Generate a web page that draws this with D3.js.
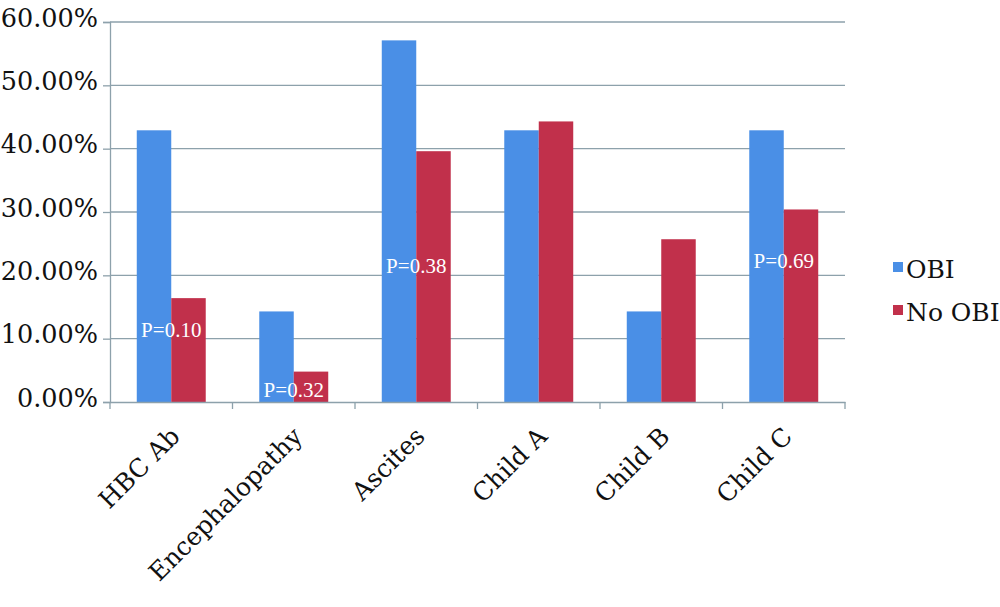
<!DOCTYPE html>
<html><head><meta charset="utf-8">
<script src="https://cdn.jsdelivr.net/npm/d3@7"></script>
<style>body{margin:0;background:#fff}svg{display:block}</style>
</head><body>
<svg id="chart" width="1000" height="607"></svg>
<script>
const categories = ["HBC Ab","Encephalopathy","Ascites","Child A","Child B","Child C"];
const seriesNames = ["OBI","No OBI"];
const obiValues = [42.9, 14.3, 57.1, 42.9, 14.3, 42.9];
const noObiValues = [16.4, 4.8, 39.6, 44.3, 25.7, 30.4];
const yTicks = [0,10,20,30,40,50,60];
const pLabels = ["P=0.10","P=0.32","P=0.38","","","P=0.69"];
const pLabelAt = [10.3, 0.8, 20.4, null, null, 21.2];

(function(){
const colors = {"OBI":"#4a8fe6","No OBI":"#c1304b"};
const font = "DejaVu Serif";
const svg = d3.select("#chart");
const pl = 110, pr = 845, pt = 22, pb = 402;
const grid = "#8da1ab";

const x = d3.scaleBand().domain(categories).range([pl,pr]).paddingInner(0.437).paddingOuter(0.2185);
const xs = d3.scaleBand().domain(seriesNames).range([0,x.bandwidth()]);
const y = d3.scaleLinear().domain([0,60]).range([pb,pt]);

svg.append("g").selectAll("line").data(yTicks.filter(d=>d>0)).join("line")
  .attr("x1",pl).attr("x2",pr).attr("y1",d=>y(d)).attr("y2",d=>y(d))
  .attr("stroke",grid).attr("stroke-width",1.3);

const yAxis = svg.append("g").attr("transform",`translate(${pl},0)`)
  .call(d3.axisLeft(y).tickValues(yTicks).tickSize(7).tickFormat(d=>d.toFixed(2)+"%"));
yAxis.select(".domain").attr("stroke",grid).attr("stroke-width",1.3);
yAxis.selectAll(".tick line").attr("stroke",grid).attr("stroke-width",1.3);
yAxis.selectAll(".tick text").attr("font-family",font).attr("font-size",25.5)
  .attr("fill","#111").attr("x",-12).attr("dy",null).attr("y",4);

const rows = categories.map((c,i)=>({cat:c, vals:[{s:"OBI",v:obiValues[i]},{s:"No OBI",v:noObiValues[i]}]}));
const g = svg.append("g").selectAll("g").data(rows).join("g").attr("transform",d=>`translate(${x(d.cat)},0)`);
g.selectAll("rect").data(d=>d.vals).join("rect")
  .attr("x",d=>xs(d.s)).attr("width",xs.bandwidth())
  .attr("y",d=>y(d.v)).attr("height",d=>y(0)-y(d.v))
  .attr("fill",d=>colors[d.s]);

const xAxis = svg.append("g").attr("transform",`translate(0,${pb})`)
  .call(d3.axisBottom(x).tickSize(0).tickFormat(""));
xAxis.select(".domain").attr("stroke",grid).attr("stroke-width",1.3);
const step = x.step();
svg.append("g").selectAll("line").data(d3.range(categories.length+1)).join("line")
  .attr("x1",i=>pl+i*step).attr("x2",i=>pl+i*step).attr("y1",pb).attr("y2",pb+7)
  .attr("stroke",grid).attr("stroke-width",1.3);

svg.append("g").selectAll("text").data(categories).join("text")
  .attr("transform",d=>`translate(${x(d)+x.bandwidth()/2+10},${pb+36}) rotate(-45)`)
  .attr("text-anchor","end").attr("font-family",font)
  .attr("font-size",25).attr("fill","#111").text(d=>d);

svg.append("g").selectAll("text").data(categories.map((c,i)=>({c,t:pLabels[i],v:pLabelAt[i]})).filter(d=>d.t))
  .join("text").attr("x",d=>x(d.c)+x.bandwidth()/2).attr("y",d=>y(d.v))
  .attr("text-anchor","middle").attr("font-family","Liberation Serif").attr("font-size",21)
  .attr("fill","#fff").text(d=>d.t);

const leg = svg.append("g").selectAll("g").data(seriesNames).join("g")
  .attr("transform",(d,i)=>`translate(893,${262+i*43})`);
leg.append("rect").attr("width",10).attr("height",10).attr("fill",d=>colors[d]);
leg.append("text").attr("x",13).attr("y",16).attr("font-family",font).attr("font-size",25)
  .attr("fill","#111").text(d=>d);
})();
</script>
</body></html>
